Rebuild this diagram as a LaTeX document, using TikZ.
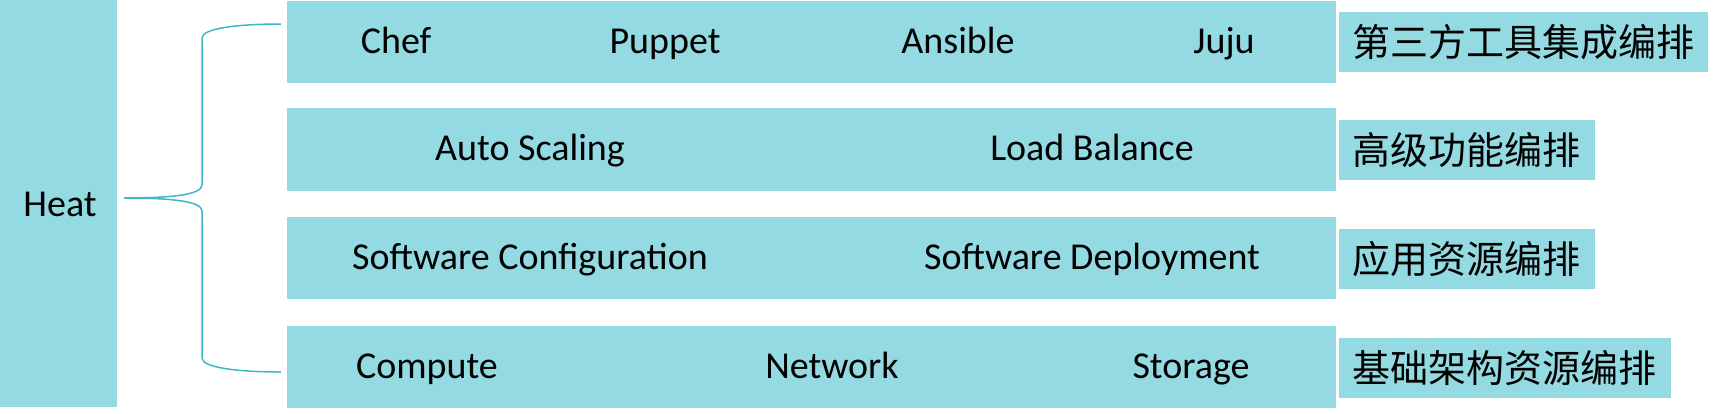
\documentclass[tikz,border=0pt]{standalone}
\usepackage{fontspec}
\setmainfont{Carlito}
\newfontfamily\cjk{Noto Sans CJK SC}
\definecolor{boxfill}{RGB}{148,218,226}
\definecolor{bracecol}{RGB}{60,185,200}
\begin{document}
\begin{tikzpicture}[x=1pt,y=-1pt,
  box/.style={fill=boxfill, draw=none, inner sep=0pt, anchor=center},
  rowbox/.style={box, minimum width=1049pt, minimum height=82pt},
  lab/.style={box, minimum height=60pt},
  txt/.style={font=\fontsize{38}{42}\selectfont, inner sep=0pt, text=black, anchor=base},
  cjktxt/.style={inner sep=0pt, text=black, anchor=west, font=\cjk\fontsize{38}{42}\selectfont},
  bracepath/.style={draw=bracecol, line width=1.5pt}]
\useasboundingbox (0,0) rectangle (1714,413);
% Heat
\node[box, minimum width=117pt, minimum height=407pt] (heat) at (58.5,203.5) {};
\node[txt] (heatt) at (60,216) {Heat};
% rows
\node[rowbox] (r1) at (811.5,42) {};
\node[rowbox, minimum height=83pt] (r2) at (811.5,149.5) {};
\node[rowbox] (r3) at (811.5,258) {};
\node[rowbox] (r4) at (811.5,367) {};
% labels
\node[lab, minimum width=369pt] (l1) at (1523.5,42) {};
\node[lab, minimum width=256pt] (l2) at (1467,150) {};
\node[lab, minimum width=256pt] (l3) at (1467,259) {};
\node[lab, minimum width=332pt] (l4) at (1505,368) {};
\node[cjktxt] (l1t) at (1352,42) {第三方工具集成编排};
\node[cjktxt] (l2t) at (1352,150) {高级功能编排};
\node[cjktxt] (l3t) at (1352,259) {应用资源编排};
\node[cjktxt] (l4t) at (1352,368) {基础架构资源编排};
% row texts
\node[txt] (chef) at (396,53) {Chef};
\node[txt] (puppet) at (665,53) {Puppet};
\node[txt] (ansible) at (958,53) {Ansible};
\node[txt] (juju) at (1224,53) {Juju};
\node[txt] (autos) at (530,160.5) {Auto Scaling};
\node[txt] (loadb) at (1092,160.5) {Load Balance};
\node[txt] (swc) at (530,269) {Software Configuration};
\node[txt] (swd) at (1092,269) {Software Deployment};
\node[txt] (comp) at (427,378) {Compute};
\node[txt] (net) at (832,378) {Network};
\node[txt] (stor) at (1191,378) {Storage};
% brace
\coordinate (bs) at (124,198);
\coordinate (bt) at (281,24);
\coordinate (bb) at (281,372);
\draw[bracepath] (bs) .. controls (170,198) and (202,195) .. (202,185) -- (202,38) .. controls (202,28) and (240,24) .. (bt);
\draw[bracepath] (bs) .. controls (170,198) and (202,201) .. (202,211) -- (202,358) .. controls (202,368) and (240,372) .. (bb);
\end{tikzpicture}
\end{document}
